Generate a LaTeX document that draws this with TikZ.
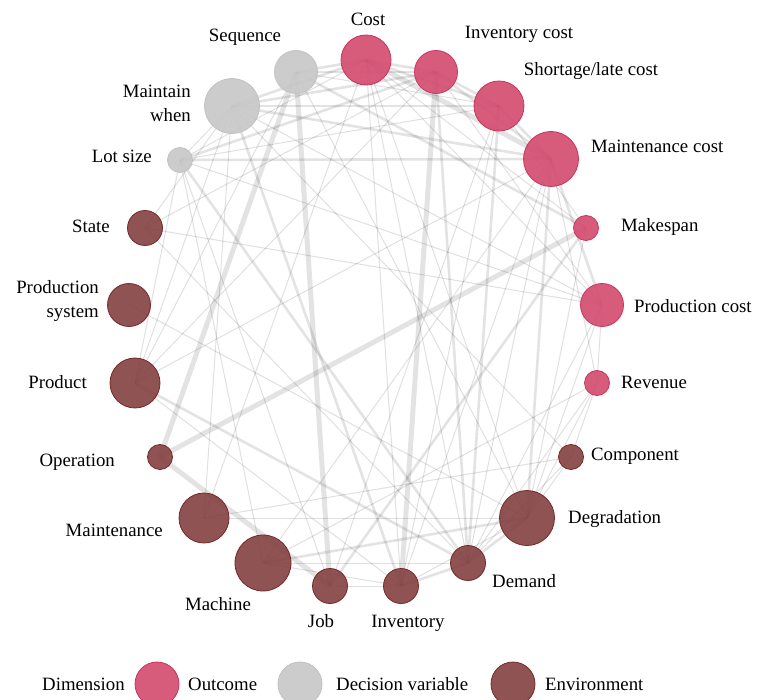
\documentclass[tikz,border=0pt]{standalone}
\usepackage{fontspec}
\setmainfont{Liberation Serif}
\usetikzlibrary{backgrounds}
\definecolor{pinkF}{RGB}{212,78,113}
\definecolor{pinkD}{RGB}{200,52,94}
\definecolor{grayF}{RGB}{200,200,200}
\definecolor{grayD}{RGB}{192,192,192}
\definecolor{brownF}{RGB}{134,68,68}
\definecolor{brownD}{RGB}{118,40,40}
\tikzset{
  outc/.style={circle, fill=pinkF, draw=pinkD, line width=0.8pt, fill opacity=0.92, inner sep=0, minimum size=#1},
  decv/.style={circle, fill=grayF, draw=grayD, line width=0.8pt, fill opacity=0.92, inner sep=0, minimum size=#1},
  envr/.style={circle, fill=brownF, draw=brownD, line width=0.8pt, fill opacity=0.92, inner sep=0, minimum size=#1},
  lab/.style={inner sep=0, font=\fontsize{18.8}{22}\selectfont, text=black},
  ew/.style={draw=black, draw opacity=0.12, line width=1pt},
  em/.style={draw=black, draw opacity=0.11, line width=2.6pt},
  et/.style={draw=black, draw opacity=0.11, line width=5pt},
}
\begin{document}
\begin{tikzpicture}[x=1pt,y=-1pt]
\useasboundingbox (0,0) rectangle (757,700);
% nodes
\node[outc=50pt] (C) at (366,60) {};
\node[outc=43pt] (IC) at (436,72) {};
\node[outc=50pt] (SC) at (499,106) {};
\node[outc=55pt] (MC) at (551,159) {};
\node[outc=25pt] (MS) at (586,228) {};
\node[outc=43pt] (PC) at (602,305) {};
\node[outc=25pt] (RV) at (597,383) {};
\node[envr=25pt] (CP) at (571,457) {};
\node[envr=55pt] (DG) at (527,518) {};
\node[envr=35pt] (DM) at (468,563) {};
\node[envr=35pt] (IV) at (401,586) {};
\node[envr=35pt] (JB) at (330,586) {};
\node[envr=56pt] (MA) at (263,563) {};
\node[envr=50pt] (MT) at (204,518) {};
\node[envr=25pt] (OP) at (160,457) {};
\node[envr=50pt] (PR) at (135,383) {};
\node[envr=43pt] (PS) at (129,305) {};
\node[envr=35pt] (ST) at (145,228) {};
\node[decv=25pt] (LS) at (180,160) {};
\node[decv=55pt] (MW) at (232,106) {};
\node[decv=43pt] (SQ) at (296,72) {};
% edges
\begin{scope}[on background layer]
\draw[em] (C.center) -- (IC.center);
\draw[em] (C.center) -- (SC.center);
\draw[et] (C.center) -- (MC.center);
\draw[em] (IC.center) -- (SC.center);
\draw[em] (IC.center) -- (MC.center);
\draw[em] (SC.center) -- (MC.center);
\draw[em] (SQ.center) -- (C.center);
\draw[em] (SQ.center) -- (IC.center);
\draw[ew] (SQ.center) -- (SC.center);
\draw[em] (MW.center) -- (C.center);
\draw[em] (MW.center) -- (IC.center);
\draw[em] (MW.center) -- (SC.center);
\draw[em] (MW.center) -- (MC.center);
\draw[ew] (LS.center) -- (C.center);
\draw[em] (LS.center) -- (IC.center);
\draw[ew] (LS.center) -- (SC.center);
\draw[em] (LS.center) -- (MC.center);
\draw[ew] (LS.center) -- (MW.center);
\draw[em] (SQ.center) -- (MS.center);
\draw[ew] (C.center) -- (MS.center);
\draw[ew] (SC.center) -- (MS.center);
\draw[ew] (IC.center) -- (PC.center);
\draw[em] (MC.center) -- (PC.center);
\draw[ew] (MC.center) -- (RV.center);
\draw[ew] (C.center) -- (PC.center);
\draw[ew] (LS.center) -- (PC.center);
\draw[em] (LS.center) -- (DM.center);
\draw[ew] (LS.center) -- (JB.center);
\draw[ew] (LS.center) -- (MA.center);
\draw[em] (MW.center) -- (IV.center);
\draw[ew] (MW.center) -- (PC.center);
\draw[ew] (MW.center) -- (ST.center);
\draw[et] (SQ.center) -- (JB.center);
\draw[et] (SQ.center) -- (OP.center);
\draw[ew] (SQ.center) -- (DG.center);
\draw[ew] (SQ.center) -- (PR.center);
\draw[ew] (MW.center) -- (MT.center);
\draw[ew] (C.center) -- (IV.center);
\draw[ew] (C.center) -- (DM.center);
\draw[ew] (C.center) -- (DG.center);
\draw[ew] (C.center) -- (MT.center);
\draw[et] (IC.center) -- (IV.center);
\draw[em] (IC.center) -- (DM.center);
\draw[ew] (IC.center) -- (PR.center);
\draw[ew] (SC.center) -- (IV.center);
\draw[em] (SC.center) -- (DM.center);
\draw[ew] (SC.center) -- (JB.center);
\draw[ew] (MC.center) -- (IV.center);
\draw[em] (MC.center) -- (DG.center);
\draw[ew] (MC.center) -- (DM.center);
\draw[ew] (MC.center) -- (PR.center);
\draw[ew] (MC.center) -- (MA.center);
\draw[et] (MS.center) -- (OP.center);
\draw[em] (MS.center) -- (JB.center);
\draw[ew] (MS.center) -- (DG.center);
\draw[ew] (PC.center) -- (DM.center);
\draw[ew] (PC.center) -- (DG.center);
\draw[ew] (PC.center) -- (ST.center);
\draw[ew] (PC.center) -- (RV.center);
\draw[ew] (RV.center) -- (CP.center);
\draw[ew] (RV.center) -- (DG.center);
\draw[ew] (RV.center) -- (DM.center);
\draw[ew] (RV.center) -- (MA.center);
\draw[ew] (CP.center) -- (DG.center);
\draw[ew] (CP.center) -- (DM.center);
\draw[ew] (CP.center) -- (MT.center);
\draw[ew] (CP.center) -- (MW.center);
\draw[em] (DG.center) -- (DM.center);
\draw[ew] (DG.center) -- (IV.center);
\draw[em] (DG.center) -- (MA.center);
\draw[ew] (DG.center) -- (MT.center);
\draw[em] (DM.center) -- (IV.center);
\draw[em] (DM.center) -- (PR.center);
\draw[ew] (DM.center) -- (MA.center);
\draw[ew] (IV.center) -- (JB.center);
\draw[ew] (IV.center) -- (PR.center);
\draw[ew] (ST.center) -- (IC.center);
\draw[ew] (ST.center) -- (DM.center);
\draw[et] (JB.center) -- (OP.center);
\draw[ew] (MA.center) -- (IV.center);
\draw[ew] (PR.center) -- (MW.center);
\draw[ew] (PR.center) -- (LS.center);
\draw[ew] (PS.center) -- (DG.center);
\end{scope}
% labels
\node[lab] (lC) at (368,19) {Cost};
\node[lab] (lIC) at (519,34) {Inventory cost};
\node[lab] (lSC) at (591,71) {Shortage/late cost};
\node[lab, anchor=west] (lMC) at (591,146) {Maintenance cost};
\node[lab, anchor=west] (lMS) at (621,227) {Makespan};
\node[lab, anchor=west] (lPC) at (634,306) {Production cost};
\node[lab, anchor=west] (lRV) at (621,382) {Revenue};
\node[lab, anchor=west] (lCP) at (591,456) {Component};
\node[lab, anchor=west] (lDG) at (568,519) {Degradation};
\node[lab, anchor=west] (lDM) at (492,581) {Demand};
\node[lab] (lIV) at (408,623) {Inventory};
\node[lab] (lJB) at (321,621) {Job};
\node[lab] (lMA) at (218,604) {Machine};
\node[lab, anchor=east] (lMT) at (163,530) {Maintenance};
\node[lab, anchor=east] (lOP) at (115,462) {Operation};
\node[lab, anchor=east] (lPR) at (87,382) {Product};
\node[lab, anchor=east, align=right] (lPS) at (99,301) {Production\\[2pt]system};
\node[lab, anchor=east] (lST) at (110,226) {State};
\node[lab, anchor=east] (lLS) at (152,156) {Lot size};
\node[lab, anchor=east, align=right] (lMW) at (191,103) {Maintain\\[2pt]when};
\node[lab] (lSQ) at (245,37) {Sequence};
% legend
\node[lab, anchor=west] (lgD) at (42,684) {Dimension};
\node[outc=44pt] (lgO) at (157,684) {};
\node[lab, anchor=west] (lgOt) at (188,684) {Outcome};
\node[decv=44pt] (lgV) at (300,684) {};
\node[lab, anchor=west] (lgVt) at (336,684) {Decision variable};
\node[envr=44pt] (lgE) at (513,684) {};
\node[lab, anchor=west] (lgEt) at (545,684) {Environment};
\end{tikzpicture}
\end{document}
